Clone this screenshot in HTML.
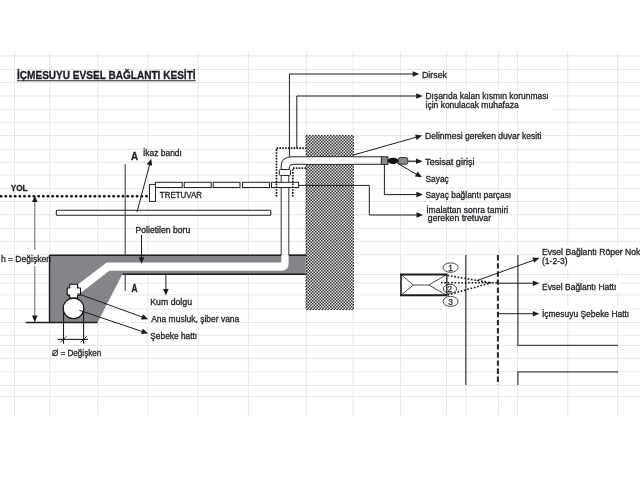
<!DOCTYPE html>
<html><head><meta charset="utf-8"><style>
html,body{margin:0;padding:0;background:#fff;width:640px;height:480px;overflow:hidden}
svg{display:block;font-family:"Liberation Sans",sans-serif;will-change:transform}
</style></head><body>
<svg width="640" height="480" viewBox="0 0 640 480">
<defs>
<pattern id="hatch" width="3" height="3" patternUnits="userSpaceOnUse">
<rect width="3" height="3" fill="#ececec"/>
<rect x="0" y="0" width="1.5" height="1.5" fill="#2e2e2e"/>
<rect x="1.5" y="1.5" width="1.5" height="1.5" fill="#2e2e2e"/>
</pattern>
</defs>
<g stroke="#e6e6ea" stroke-width="1"><line x1="0" y1="55.9" x2="640" y2="55.9"/><line x1="0" y1="69.4" x2="640" y2="69.4"/><line x1="0" y1="82.6" x2="640" y2="82.6"/><line x1="0" y1="95.9" x2="640" y2="95.9"/><line x1="0" y1="109.3" x2="640" y2="109.3"/><line x1="0" y1="122.4" x2="640" y2="122.4"/><line x1="0" y1="135.7" x2="640" y2="135.7"/><line x1="0" y1="149.3" x2="640" y2="149.3"/><line x1="0" y1="162.3" x2="640" y2="162.3"/><line x1="0" y1="175.2" x2="640" y2="175.2"/><line x1="0" y1="188.3" x2="640" y2="188.3"/><line x1="0" y1="201.5" x2="640" y2="201.5"/><line x1="0" y1="214.8" x2="640" y2="214.8"/><line x1="0" y1="228.3" x2="640" y2="228.3"/><line x1="0" y1="241.3" x2="640" y2="241.3"/><line x1="0" y1="254.8" x2="640" y2="254.8"/><line x1="0" y1="274.5" x2="640" y2="274.5"/><line x1="0" y1="283.2" x2="640" y2="283.2"/><line x1="0" y1="294.9" x2="640" y2="294.9"/><line x1="0" y1="309" x2="640" y2="309"/><line x1="0" y1="322.5" x2="640" y2="322.5"/><line x1="0" y1="335.3" x2="640" y2="335.3"/><line x1="0" y1="345.5" x2="640" y2="345.5"/><line x1="0" y1="358.4" x2="640" y2="358.4"/><line x1="0" y1="371.8" x2="640" y2="371.8"/><line x1="0" y1="385.5" x2="640" y2="385.5"/><line x1="0" y1="396.3" x2="640" y2="396.3"/><line x1="14.5" y1="52" x2="14.5" y2="415.8"/><line x1="49.75" y1="52" x2="49.75" y2="415.8"/><line x1="97.8" y1="52" x2="97.8" y2="415.8"/><line x1="147.9" y1="52" x2="147.9" y2="415.8"/><line x1="198.2" y1="52" x2="198.2" y2="415.8"/><line x1="248.4" y1="52" x2="248.4" y2="415.8"/><line x1="306.7" y1="52" x2="306.7" y2="415.8"/><line x1="353.2" y1="52" x2="353.2" y2="415.8"/><line x1="400.7" y1="52" x2="400.7" y2="415.8"/><line x1="446.6" y1="52" x2="446.6" y2="415.8"/><line x1="466" y1="52" x2="466" y2="415.8"/><line x1="498.6" y1="52" x2="498.6" y2="415.8"/><line x1="517.5" y1="52" x2="517.5" y2="415.8"/><line x1="567.8" y1="52" x2="567.8" y2="415.8"/><line x1="617.7" y1="52" x2="617.7" y2="415.8"/></g><rect x="306" y="135.5" width="47.5" height="174" fill="url(#hatch)" stroke="#333" stroke-width="1" stroke-dasharray="1.5 1.5"/><polygon points="49.5,255.2 305.8,255.2 305.8,274.3 122.3,274.3 97.5,322.5 49.5,322.5" fill="#858489"/><path d="M77.6,284.7 L106.7,262.5 L281.3,262.5 L281.3,255 L288.6,255 L288.6,263.5 Q288.6,270.8 281,270.8 L109.3,270.8 L81.3,292.6 Z" fill="#fff"/><line x1="49.5" y1="255.2" x2="281.2" y2="255.2" stroke="#1c1c1c" stroke-width="1.6"/><line x1="288.8" y1="255.2" x2="306" y2="255.2" stroke="#1c1c1c" stroke-width="1.6"/><line x1="122.3" y1="274.3" x2="305.8" y2="274.3" stroke="#1c1c1c" stroke-width="1.4"/><line x1="49.5" y1="255.2" x2="49.5" y2="322.5" stroke="#1c1c1c" stroke-width="1.4"/><line x1="25.7" y1="322.5" x2="97.5" y2="322.5" stroke="#1c1c1c" stroke-width="1.4"/><line x1="281.2" y1="175.4" x2="281.2" y2="255" stroke="#333" stroke-width="1"/><line x1="288.8" y1="175.4" x2="288.8" y2="255" stroke="#333" stroke-width="1"/><path d="M281.2,169.5 L281.2,166 Q281.2,156.8 292,156.8 L381.3,156.8" fill="none" stroke="#222" stroke-width="1"/><path d="M289.2,169.5 L289.2,168 Q289.2,164.3 293,164.3 L381.3,164.3" fill="none" stroke="#222" stroke-width="1"/><rect x="305" y="157.3" width="49" height="6.5" fill="#fff"/><rect x="279.3" y="169.5" width="11.2" height="5.9" rx="1.2" fill="#fff" stroke="#222" stroke-width="1"/><rect x="381.3" y="156.8" width="6.6" height="7.6" fill="#8a8a8a" stroke="#222" stroke-width="1"/><ellipse cx="393" cy="160.8" rx="5.3" ry="3.1" fill="#111"/><rect x="398.4" y="157.6" width="9.3" height="6.6" rx="1.5" fill="#8a8a8a" stroke="#333" stroke-width="1"/><line x1="407.6" y1="161.2" x2="417" y2="161.2" stroke="#1c1c1c" stroke-width="1.2"/><polygon points="422.60,161.20 416.00,164.00 416.00,158.40" fill="#1c1c1c"/><rect x="149.5" y="184.4" width="6" height="17" fill="#fff" stroke="#222" stroke-width="1"/><rect x="155.4" y="182.3" width="26.8" height="5.2" fill="#fff" stroke="#222" stroke-width="1"/><rect x="184.2" y="182.3" width="27.0" height="5.2" fill="#fff" stroke="#222" stroke-width="1"/><rect x="213.2" y="182.3" width="26.8" height="5.2" fill="#fff" stroke="#222" stroke-width="1"/><rect x="242.5" y="182.3" width="27.0" height="5.2" fill="#fff" stroke="#222" stroke-width="1"/><rect x="271.5" y="182.3" width="27.1" height="5.2" fill="#fff" stroke="#222" stroke-width="1"/><path d="M276.5,196.5 L276.5,148.1 L305.8,148.1 M292.8,196.5 L292.8,168.2 L305.8,168.2" fill="none" stroke="#111" stroke-width="1.7" stroke-dasharray="1.6 1.25"/><rect x="56.3" y="210.3" width="214.5" height="4.9" rx="1" fill="#fff" stroke="#222" stroke-width="1.1"/><line x1="-4" y1="196.2" x2="148.5" y2="196.2" stroke="#111" stroke-width="2.6" stroke-linecap="round" stroke-dasharray="0.4 4.29" stroke-dashoffset="-0.2"/><line x1="125.2" y1="164" x2="125.2" y2="255" stroke="#333" stroke-width="1"/><line x1="125.2" y1="274.3" x2="125.2" y2="291" stroke="#333" stroke-width="1"/><line x1="137" y1="212" x2="150.2" y2="162.5" stroke="#1c1c1c" stroke-width="1"/><polygon points="151.20,158.70 152.21,165.80 146.80,164.36" fill="#1c1c1c"/><line x1="141.5" y1="235" x2="141.5" y2="258" stroke="#1c1c1c" stroke-width="1"/><polygon points="141.50,263.80 138.70,257.20 144.30,257.20" fill="#1c1c1c"/><line x1="165.9" y1="274.3" x2="165.9" y2="290" stroke="#1c1c1c" stroke-width="1"/><polygon points="165.90,295.60 163.10,289.00 168.70,289.00" fill="#1c1c1c"/><line x1="34.8" y1="201" x2="34.8" y2="250" stroke="#777" stroke-width="1.1"/><line x1="34.8" y1="266" x2="34.8" y2="316" stroke="#777" stroke-width="1.1"/><polygon points="34.80,195.50 37.60,202.10 32.00,202.10" fill="#1c1c1c"/><polygon points="34.80,322.20 32.00,315.60 37.60,315.60" fill="#1c1c1c"/><path d="M69.7,284.3 H77.6 V288 H80.5 V295.1 H77.6 V298 H69.7 V295.1 H67.2 V288 H69.7 Z" fill="#fff" stroke="#111" stroke-width="1.1" stroke-linejoin="round"/><circle cx="73.5" cy="308.4" r="10.3" fill="#fff" stroke="#111" stroke-width="1.1"/><line x1="63.5" y1="308" x2="63.5" y2="343.8" stroke="#1c1c1c" stroke-width="1.1"/><line x1="83.6" y1="307.5" x2="83.6" y2="343.8" stroke="#1c1c1c" stroke-width="1.1"/><line x1="57.5" y1="339.4" x2="88.1" y2="339.4" stroke="#1c1c1c" stroke-width="1.1"/><line x1="60.5" y1="342.4" x2="66.5" y2="336.4" stroke="#1c1c1c" stroke-width="0.9"/><line x1="80.6" y1="342.4" x2="86.6" y2="336.4" stroke="#1c1c1c" stroke-width="0.9"/><line x1="77.5" y1="293.5" x2="143" y2="317.3" stroke="#1c1c1c" stroke-width="1"/><polygon points="148.20,319.20 141.04,319.58 142.95,314.31" fill="#1c1c1c"/><line x1="79.4" y1="310.3" x2="143" y2="331.8" stroke="#1c1c1c" stroke-width="1"/><polygon points="148.20,333.40 141.05,333.95 142.83,328.64" fill="#1c1c1c"/><polyline points="289.4,156.8 289.4,74 413,74" fill="none" stroke="#1c1c1c" stroke-width="1"/><polygon points="419.30,74.00 412.70,76.80 412.70,71.20" fill="#1c1c1c"/><polyline points="296.8,148.1 296.8,96 416,96" fill="none" stroke="#1c1c1c" stroke-width="1"/><polygon points="422.80,96.00 416.20,98.80 416.20,93.20" fill="#1c1c1c"/><line x1="352.7" y1="155.2" x2="416" y2="137.3" stroke="#1c1c1c" stroke-width="1"/><polygon points="422.20,135.40 416.62,139.90 415.09,134.52" fill="#1c1c1c"/><line x1="397" y1="163" x2="416.5" y2="174.3" stroke="#1c1c1c" stroke-width="1"/><polygon points="422.00,177.30 414.88,176.45 417.66,171.59" fill="#1c1c1c"/><polyline points="384.4,164.4 384.4,194.6 417,194.6" fill="none" stroke="#1c1c1c" stroke-width="1"/><polygon points="423.00,194.60 416.40,197.40 416.40,191.80" fill="#1c1c1c"/><polyline points="298.6,185.4 369.3,185.4 369.3,215 417,215" fill="none" stroke="#1c1c1c" stroke-width="1"/><polygon points="423.10,215.00 416.50,217.80 416.50,212.20" fill="#1c1c1c"/><line x1="465.8" y1="255.1" x2="465.8" y2="385" stroke="#444" stroke-width="1.3"/><line x1="497.9" y1="255.1" x2="497.9" y2="385" stroke="#222" stroke-width="2" stroke-dasharray="5.4 2.7"/><polyline points="517.9,255.1 517.9,345.3 618,345.3" fill="none" stroke="#444" stroke-width="1.3"/><polyline points="517.9,385 517.9,371.8 618,371.8" fill="none" stroke="#444" stroke-width="1.3"/><rect x="401" y="274.5" width="45.8" height="20.8" fill="#fff" stroke="none"/><path d="M401,274.5 L413.3,285 L428.8,285 L446.8,274.5 M401,295.3 L413.3,285 M428.8,285 L446.8,295.3" fill="none" stroke="#333" stroke-width="0.9"/><line x1="400" y1="274.5" x2="447.5" y2="274.5" stroke="#1c1c1c" stroke-width="2"/><line x1="400" y1="295.3" x2="447.5" y2="295.3" stroke="#1c1c1c" stroke-width="2"/><line x1="401" y1="274.5" x2="401" y2="295.3" stroke="#1c1c1c" stroke-width="1.6"/><line x1="446.8" y1="274.5" x2="446.8" y2="295.3" stroke="#1c1c1c" stroke-width="1.3"/><path d="M447.5,275.5 L491.3,282.8 M441,282.8 L497,282.8 M447.7,295 L491.3,282.8" fill="none" stroke="#111" stroke-width="1.6" stroke-dasharray="1.6 1.8"/><ellipse cx="450.6" cy="267.6" rx="7.5" ry="4.7" fill="none" stroke="#333" stroke-width="0.9"/><text x="448.20000000000005" y="270.70000000000005" font-size="8.4" fill="#333" stroke="#333" stroke-width="0.3">1</text><ellipse cx="450" cy="288.8" rx="6.6" ry="4.5" fill="none" stroke="#333" stroke-width="0.9"/><text x="447.6" y="291.90000000000003" font-size="8.4" fill="#333" stroke="#333" stroke-width="0.3">2</text><ellipse cx="450.6" cy="301.4" rx="7.6" ry="5" fill="none" stroke="#333" stroke-width="0.9"/><text x="448.20000000000005" y="304.5" font-size="8.4" fill="#333" stroke="#333" stroke-width="0.3">3</text><line x1="476.8" y1="280.6" x2="534" y2="260.1" stroke="#1c1c1c" stroke-width="1"/><polygon points="539.40,258.00 534.14,262.87 532.24,257.61" fill="#1c1c1c"/><line x1="497" y1="283.2" x2="534" y2="283.2" stroke="#1c1c1c" stroke-width="1"/><polygon points="539.40,283.20 532.80,286.00 532.80,280.40" fill="#1c1c1c"/><line x1="497.9" y1="313.7" x2="534" y2="313.7" stroke="#1c1c1c" stroke-width="1"/><polygon points="539.40,313.70 532.80,316.50 532.80,310.90" fill="#1c1c1c"/><text x="17" y="79.4" font-size="11" font-weight="bold" textLength="178.6" lengthAdjust="spacingAndGlyphs" fill="#1a1a22" stroke="#1a1a22" stroke-width="0.3">İÇMESUYU EVSEL BAĞLANTI KESİTİ</text><line x1="17" y1="80.8" x2="195.6" y2="80.8" stroke="#222" stroke-width="1.1"/><text x="10.8" y="190.9" font-size="8.2" font-weight="bold" textLength="16.8" lengthAdjust="spacingAndGlyphs" fill="#1e1e24" stroke="#1e1e24" stroke-width="0.3">YOL</text><text x="131" y="159.9" font-size="10.6" font-weight="bold" textLength="7.1" lengthAdjust="spacingAndGlyphs" fill="#1e1e24" stroke="#1e1e24" stroke-width="0.3">A</text><text x="131.6" y="291.6" font-size="10" font-weight="bold" textLength="6" lengthAdjust="spacingAndGlyphs" fill="#1e1e24" stroke="#1e1e24" stroke-width="0.3">A</text><text x="143" y="155.9" font-size="8.2" textLength="38.9" lengthAdjust="spacingAndGlyphs" fill="#1e1e24" stroke="#1e1e24" stroke-width="0.3">İkaz bandı</text><text x="159.8" y="197.5" font-size="8.3" textLength="42.3" lengthAdjust="spacingAndGlyphs" fill="#1e1e24" stroke="#1e1e24" stroke-width="0.3">TRETUVAR</text><text x="135.5" y="232.9" font-size="8.7" textLength="54.7" lengthAdjust="spacingAndGlyphs" fill="#1e1e24" stroke="#1e1e24" stroke-width="0.3">Polietilen boru</text><text x="0.9" y="261.9" font-size="9" textLength="50.1" lengthAdjust="spacingAndGlyphs" fill="#1e1e24" stroke="#1e1e24" stroke-width="0.3">h = Değişken</text><text x="150.3" y="304.6" font-size="8.7" textLength="41.7" lengthAdjust="spacingAndGlyphs" fill="#1e1e24" stroke="#1e1e24" stroke-width="0.3">Kum dolgu</text><text x="151.2" y="322.2" font-size="8.7" textLength="88.1" lengthAdjust="spacingAndGlyphs" fill="#1e1e24" stroke="#1e1e24" stroke-width="0.3">Ana musluk, şiber vana</text><text x="150.3" y="338.5" font-size="8.7" textLength="46.9" lengthAdjust="spacingAndGlyphs" fill="#1e1e24" stroke="#1e1e24" stroke-width="0.3">Şebeke hattı</text><text x="51.9" y="355.6" font-size="8.7" textLength="49.4" lengthAdjust="spacingAndGlyphs" fill="#1e1e24" stroke="#1e1e24" stroke-width="0.3">Ø = Değişken</text><text x="422" y="77.75" font-size="8.6" textLength="25" lengthAdjust="spacingAndGlyphs" fill="#1e1e24" stroke="#1e1e24" stroke-width="0.3">Dirsek</text><rect x="424" y="89.5" width="128" height="21" fill="#fff"/><rect x="540.5" y="245.5" width="100" height="23" fill="#fff"/><rect x="540.5" y="279" width="80" height="14" fill="#fff"/><rect x="540.5" y="305.5" width="92" height="15" fill="#fff"/><text x="425.5" y="99" font-size="8.6" textLength="123.2" lengthAdjust="spacingAndGlyphs" fill="#1e1e24" stroke="#1e1e24" stroke-width="0.3">Dışarıda kalan kısmın korunması</text><text x="425.5" y="107.75" font-size="8.6" textLength="93.2" lengthAdjust="spacingAndGlyphs" fill="#1e1e24" stroke="#1e1e24" stroke-width="0.3">için konulacak muhafaza</text><text x="425.1" y="138.8" font-size="8.6" textLength="116.4" lengthAdjust="spacingAndGlyphs" fill="#1e1e24" stroke="#1e1e24" stroke-width="0.3">Delinmesi gereken duvar kesiti</text><text x="425.1" y="164.5" font-size="8.6" textLength="49.4" lengthAdjust="spacingAndGlyphs" fill="#1e1e24" stroke="#1e1e24" stroke-width="0.3">Tesisat girişi</text><text x="425.5" y="182" font-size="8.6" textLength="23.2" lengthAdjust="spacingAndGlyphs" fill="#1e1e24" stroke="#1e1e24" stroke-width="0.3">Sayaç</text><text x="425.5" y="198" font-size="8.6" textLength="85.7" lengthAdjust="spacingAndGlyphs" fill="#1e1e24" stroke="#1e1e24" stroke-width="0.3">Sayaç bağlantı parçası</text><text x="426.2" y="212.6" font-size="8.6" textLength="82" lengthAdjust="spacingAndGlyphs" fill="#1e1e24" stroke="#1e1e24" stroke-width="0.3">İmalattan sonra tamiri</text><text x="427.8" y="221" font-size="8.6" textLength="63.3" lengthAdjust="spacingAndGlyphs" fill="#1e1e24" stroke="#1e1e24" stroke-width="0.3">gereken tretuvar</text><text x="542" y="255" font-size="8.6" fill="#1e1e24" stroke="#1e1e24" stroke-width="0.3">Evsel Bağlantı Röper Noktası</text><text x="542" y="263.5" font-size="8.6" textLength="25.5" lengthAdjust="spacingAndGlyphs" fill="#1e1e24" stroke="#1e1e24" stroke-width="0.3">(1-2-3)</text><text x="542" y="289.7" font-size="8.6" textLength="74.3" lengthAdjust="spacingAndGlyphs" fill="#1e1e24" stroke="#1e1e24" stroke-width="0.3">Evsel Bağlantı Hattı</text><text x="542" y="316.7" font-size="8.6" textLength="87.2" lengthAdjust="spacingAndGlyphs" fill="#1e1e24" stroke="#1e1e24" stroke-width="0.3">İçmesuyu Şebeke Hattı</text>
</svg>
</body></html>
